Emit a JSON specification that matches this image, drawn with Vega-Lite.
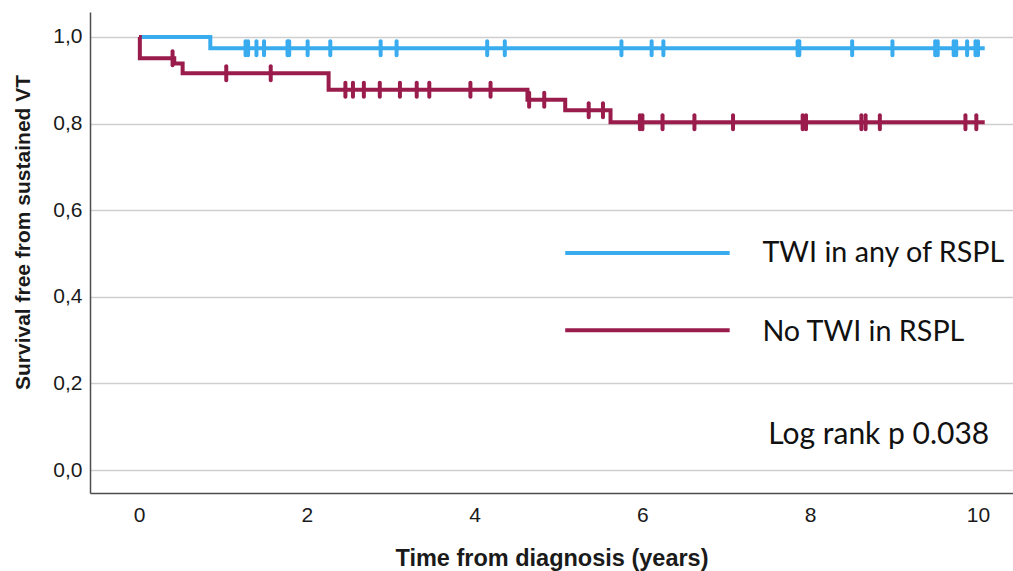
{
  "$schema": "https://vega.github.io/schema/vega-lite/v6.json",
  "width": 923,
  "height": 481,
  "autosize": {"type": "none"},
  "padding": {"left": 90, "top": 12, "right": 0, "bottom": 78},
  "background": "white",
  "config": {
    "view": {"stroke": null},
    "font": "Liberation Sans"
  },
  "datasets": {
    "curve": [
      {"group": "TWI in any of RSPL", "time": 0, "surv": 1.0},
      {"group": "TWI in any of RSPL", "time": 0.85, "surv": 0.974},
      {"group": "TWI in any of RSPL", "time": 10.08, "surv": 0.974},
      {"group": "No TWI in RSPL", "time": 0, "surv": 1.0},
      {"group": "No TWI in RSPL", "time": 0.01, "surv": 0.951},
      {"group": "No TWI in RSPL", "time": 0.42, "surv": 0.939},
      {"group": "No TWI in RSPL", "time": 0.52, "surv": 0.916},
      {"group": "No TWI in RSPL", "time": 2.26, "surv": 0.878},
      {"group": "No TWI in RSPL", "time": 4.63, "surv": 0.855},
      {"group": "No TWI in RSPL", "time": 5.08, "surv": 0.831},
      {"group": "No TWI in RSPL", "time": 5.62, "surv": 0.803},
      {"group": "No TWI in RSPL", "time": 10.08, "surv": 0.803}
    ],
    "censored": [
      {"group": "TWI in any of RSPL", "time": 1.27, "surv": 0.974},
      {"group": "TWI in any of RSPL", "time": 1.30, "surv": 0.974},
      {"group": "TWI in any of RSPL", "time": 1.40, "surv": 0.974},
      {"group": "TWI in any of RSPL", "time": 1.49, "surv": 0.974},
      {"group": "TWI in any of RSPL", "time": 1.77, "surv": 0.974},
      {"group": "TWI in any of RSPL", "time": 1.79, "surv": 0.974},
      {"group": "TWI in any of RSPL", "time": 2.01, "surv": 0.974},
      {"group": "TWI in any of RSPL", "time": 2.28, "surv": 0.974},
      {"group": "TWI in any of RSPL", "time": 2.88, "surv": 0.974},
      {"group": "TWI in any of RSPL", "time": 3.07, "surv": 0.974},
      {"group": "TWI in any of RSPL", "time": 4.15, "surv": 0.974},
      {"group": "TWI in any of RSPL", "time": 4.36, "surv": 0.974},
      {"group": "TWI in any of RSPL", "time": 5.75, "surv": 0.974},
      {"group": "TWI in any of RSPL", "time": 6.11, "surv": 0.974},
      {"group": "TWI in any of RSPL", "time": 6.25, "surv": 0.974},
      {"group": "TWI in any of RSPL", "time": 7.85, "surv": 0.974},
      {"group": "TWI in any of RSPL", "time": 7.87, "surv": 0.974},
      {"group": "TWI in any of RSPL", "time": 8.50, "surv": 0.974},
      {"group": "TWI in any of RSPL", "time": 8.98, "surv": 0.974},
      {"group": "TWI in any of RSPL", "time": 9.49, "surv": 0.974},
      {"group": "TWI in any of RSPL", "time": 9.52, "surv": 0.974},
      {"group": "TWI in any of RSPL", "time": 9.71, "surv": 0.974},
      {"group": "TWI in any of RSPL", "time": 9.74, "surv": 0.974},
      {"group": "TWI in any of RSPL", "time": 9.87, "surv": 0.974},
      {"group": "TWI in any of RSPL", "time": 9.97, "surv": 0.974},
      {"group": "TWI in any of RSPL", "time": 10.00, "surv": 0.974},
      {"group": "No TWI in RSPL", "time": 0.40, "surv": 0.951},
      {"group": "No TWI in RSPL", "time": 1.04, "surv": 0.916},
      {"group": "No TWI in RSPL", "time": 1.57, "surv": 0.916},
      {"group": "No TWI in RSPL", "time": 2.46, "surv": 0.878},
      {"group": "No TWI in RSPL", "time": 2.55, "surv": 0.878},
      {"group": "No TWI in RSPL", "time": 2.68, "surv": 0.878},
      {"group": "No TWI in RSPL", "time": 2.87, "surv": 0.878},
      {"group": "No TWI in RSPL", "time": 3.11, "surv": 0.878},
      {"group": "No TWI in RSPL", "time": 3.31, "surv": 0.878},
      {"group": "No TWI in RSPL", "time": 3.46, "surv": 0.878},
      {"group": "No TWI in RSPL", "time": 3.95, "surv": 0.878},
      {"group": "No TWI in RSPL", "time": 4.19, "surv": 0.878},
      {"group": "No TWI in RSPL", "time": 4.65, "surv": 0.855},
      {"group": "No TWI in RSPL", "time": 4.83, "surv": 0.855},
      {"group": "No TWI in RSPL", "time": 5.36, "surv": 0.831},
      {"group": "No TWI in RSPL", "time": 5.53, "surv": 0.831},
      {"group": "No TWI in RSPL", "time": 5.97, "surv": 0.803},
      {"group": "No TWI in RSPL", "time": 6.00, "surv": 0.803},
      {"group": "No TWI in RSPL", "time": 6.24, "surv": 0.803},
      {"group": "No TWI in RSPL", "time": 6.62, "surv": 0.803},
      {"group": "No TWI in RSPL", "time": 7.08, "surv": 0.803},
      {"group": "No TWI in RSPL", "time": 7.91, "surv": 0.803},
      {"group": "No TWI in RSPL", "time": 7.95, "surv": 0.803},
      {"group": "No TWI in RSPL", "time": 8.61, "surv": 0.803},
      {"group": "No TWI in RSPL", "time": 8.66, "surv": 0.803},
      {"group": "No TWI in RSPL", "time": 8.83, "surv": 0.803},
      {"group": "No TWI in RSPL", "time": 9.85, "surv": 0.803},
      {"group": "No TWI in RSPL", "time": 9.98, "surv": 0.803}
    ],
    "single": [{}]
  },
  "layer": [
    {
      "data": {"name": "curve"},
      "mark": {"type": "line", "interpolate": "step-after", "strokeWidth": 4, "strokeJoin": "miter"},
      "encoding": {
        "x": {
          "field": "time",
          "type": "quantitative",
          "scale": {"domain": [-0.584, 10.417], "nice": false, "zero": false},
          "axis": {
            "values": [0, 2, 4, 6, 8, 10],
            "format": "d",
            "title": "Time from diagnosis (years)",
            "grid": false,
            "ticks": false,
            "tickSize": 0,
            "labelPadding": 11,
            "labelFont": "Liberation Sans",
            "labelFontSize": 21,
            "labelColor": "#1a1a1a",
            "titleFont": "Liberation Sans",
            "titleFontSize": 23.5,
            "titleFontWeight": "bold",
            "titleColor": "#1a1a1a",
            "titlePadding": 21,
            "domainColor": "#4d4d4d",
            "domainWidth": 1.5
          }
        },
        "y": {
          "field": "surv",
          "type": "quantitative",
          "scale": {"domain": [-0.0531, 1.0577], "nice": false, "zero": false},
          "axis": {
            "values": [0, 0.2, 0.4, 0.6, 0.8, 1.0],
            "labelExpr": "replace(format(datum.value, '.1f'), '.', ',')",
            "title": "Survival free from sustained VT",
            "grid": true,
            "gridColor": "#cfcfcf",
            "gridWidth": 1.5,
            "ticks": false,
            "tickSize": 0,
            "labelPadding": 8,
            "labelFont": "Liberation Sans",
            "labelFontSize": 21,
            "labelColor": "#1a1a1a",
            "titleFont": "Liberation Sans",
            "titleFontSize": 21,
            "titleFontWeight": "bold",
            "titleColor": "#1a1a1a",
            "titlePadding": 19,
            "titleY": 220,
            "domainColor": "#4d4d4d",
            "domainWidth": 1.5
          }
        },
        "color": {
          "field": "group",
          "type": "nominal",
          "scale": {"domain": ["TWI in any of RSPL", "No TWI in RSPL"], "range": ["#39acf0", "#9a1c4c"]},
          "legend": null
        },
        "detail": {"field": "group"}
      }
    },
    {
      "data": {"name": "censored"},
      "mark": {"type": "tick", "orient": "vertical", "size": 18, "thickness": 4, "opacity": 1, "cornerRadius": 2},
      "encoding": {
        "x": {"field": "time", "type": "quantitative"},
        "y": {"field": "surv", "type": "quantitative"},
        "color": {"field": "group", "type": "nominal"}
      }
    },
    {
      "data": {"name": "single"},
      "mark": {"type": "rule", "strokeWidth": 4},
      "encoding": {
        "x": {"datum": 5.08, "type": "quantitative"},
        "x2": {"datum": 7.04},
        "y": {"datum": 0.501, "type": "quantitative"},
        "color": {"datum": "TWI in any of RSPL", "type": "nominal"}
      }
    },
    {
      "data": {"name": "single"},
      "mark": {"type": "rule", "strokeWidth": 4},
      "encoding": {
        "x": {"datum": 5.08, "type": "quantitative"},
        "x2": {"datum": 7.04},
        "y": {"datum": 0.323, "type": "quantitative"},
        "color": {"datum": "No TWI in RSPL", "type": "nominal"}
      }
    },
    {
      "data": {"name": "single"},
      "mark": {"type": "text", "align": "left", "baseline": "alphabetic", "font": "Lato", "fontSize": 28.7, "color": "#111111"},
      "encoding": {
        "x": {"datum": 7.43, "type": "quantitative"},
        "y": {"datum": 0.481, "type": "quantitative"},
        "text": {"value": "TWI in any of RSPL"}
      }
    },
    {
      "data": {"name": "single"},
      "mark": {"type": "text", "align": "left", "baseline": "alphabetic", "font": "Lato", "fontSize": 28.7, "color": "#111111"},
      "encoding": {
        "x": {"datum": 7.43, "type": "quantitative"},
        "y": {"datum": 0.299, "type": "quantitative"},
        "text": {"value": "No TWI in RSPL"}
      }
    },
    {
      "data": {"name": "single"},
      "mark": {"type": "text", "align": "left", "baseline": "alphabetic", "font": "Lato", "fontSize": 30, "color": "#111111"},
      "encoding": {
        "x": {"datum": 7.5, "type": "quantitative"},
        "y": {"datum": 0.06, "type": "quantitative"},
        "text": {"value": "Log rank p 0.038"}
      }
    }
  ]
}
